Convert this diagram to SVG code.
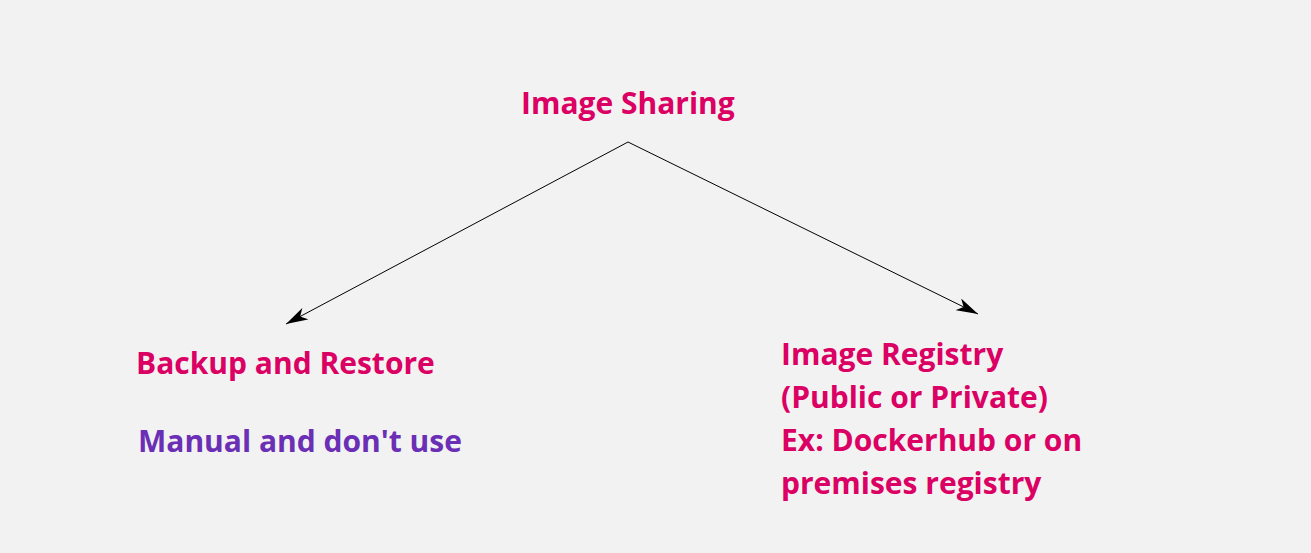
<svg xmlns="http://www.w3.org/2000/svg" width="1311" height="553" viewBox="0 0 1311 553">
<defs>
<style>
.t{font-family:"Open Sans","Noto Sans",sans-serif;font-weight:700;font-size:30px;fill:#db0063}
.p{fill:#6a2fb5}
.c{stroke:#000;stroke-width:1;fill:none}
</style>
<marker id="ah" viewBox="0 0 22 13" refX="22" refY="6.5" markerWidth="22" markerHeight="13" markerUnits="userSpaceOnUse" orient="auto">
<path d="M0,0 L22,6.5 L0,13 L6,6.5 Z" fill="#000"/>
</marker>
</defs>
<rect width="1311" height="553" fill="#f2f2f2"/>
<g id="connectors">
<path class="c" d="M628,142 L286,324" marker-end="url(#ah)"/>
<path class="c" d="M628,142 L978,314" marker-end="url(#ah)"/>
</g>
<g id="image-sharing"><text class="t" x="521" y="114">Image Sharing</text></g>
<g id="backup-restore"><text class="t" x="136" y="374">Backup and Restore</text></g>
<g id="manual-note"><text class="t p" x="138" y="452">Manual and don't use</text></g>
<g id="image-registry"><text class="t" x="781" y="365"><tspan x="781" y="365">Image Registry</tspan><tspan x="781" y="408">(Public or Private)</tspan><tspan x="781" y="451">Ex: Dockerhub or on</tspan><tspan x="781" y="494">premises registry</tspan></text></g>
</svg>
